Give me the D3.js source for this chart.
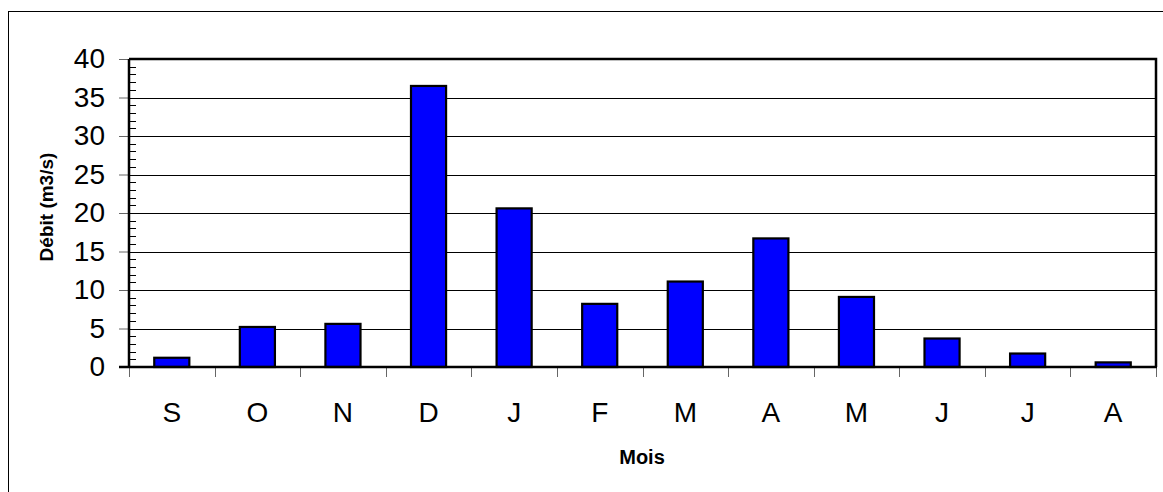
<!DOCTYPE html>
<html>
<head>
<meta charset="utf-8">
<script src="https://cdn.jsdelivr.net/npm/d3@7"></script>
<style>
  html, body { margin: 0; padding: 0; background: #fff; }
  svg { display: block; font-family: "Liberation Sans", Arial, sans-serif; }
</style>
</head>
<body>
<svg id="chart" width="1163" height="492"></svg>
<script>
const months = ["S", "O", "N", "D", "J", "F", "M", "A", "M", "J", "J", "A"];
const debit = [1.2, 5.2, 5.6, 36.5, 20.6, 8.2, 11.1, 16.7, 9.1, 3.7, 1.75, 0.6];
const yTicks = [0, 5, 10, 15, 20, 25, 30, 35, 40];
const yMinorTicks = d3.range(0, 41, 1);
const yTitle = "Débit (m3/s)";
const xTitle = "Mois";

const svg = d3.select("#chart");
const W = 1163, H = 492;
const plot = { left: 129, right: 1156, top: 59, bottom: 367 };

// outer chart frame (extends past the right / bottom edge)
svg.append("rect")
  .attr("x", 8.5).attr("y", 11.5)
  .attr("width", W + 20).attr("height", H + 20)
  .attr("fill", "#fff").attr("stroke", "#000").attr("stroke-width", 1);

const idx = months.map((d, i) => i);
const bandPad = 0.59;
const x = d3.scaleBand().domain(idx)
  .range([plot.left, plot.right])
  .paddingInner(bandPad).paddingOuter(bandPad / 2);
const step = x.step();

const y = d3.scaleLinear().domain([0, 40]).range([plot.bottom, plot.top]);

// gridlines
svg.append("g").selectAll("line")
  .data(yTicks.filter(v => v > 0 && v < 40))
  .join("line")
  .attr("x1", plot.left).attr("x2", plot.right)
  .attr("y1", d => Math.round(y(d)) + 0.5).attr("y2", d => Math.round(y(d)) + 0.5)
  .attr("stroke", "#000").attr("stroke-width", 1);

// minor ticks (inside)
svg.append("g").selectAll("line")
  .data(yMinorTicks.filter(v => v % 5 !== 0))
  .join("line")
  .attr("x1", plot.left).attr("x2", plot.left + 7)
  .attr("y1", d => Math.round(y(d)) + 0.5).attr("y2", d => Math.round(y(d)) + 0.5)
  .attr("stroke", "#000").attr("stroke-width", 1);

// y axis major ticks + labels
const yAxis = d3.axisLeft(y).tickValues(yTicks).tickSize(10).tickPadding(14)
  .tickFormat(d3.format("d"));
const gy = svg.append("g").attr("transform", `translate(${plot.left},0)`).call(yAxis);
gy.select(".domain").remove();
gy.selectAll(".tick line").attr("stroke", "#666");
gy.selectAll(".tick text")
  .attr("font-size", 28).attr("fill", "#000")
  .attr("font-family", "'Liberation Sans', Arial, sans-serif");

// bars
svg.append("g").selectAll("rect")
  .data(debit)
  .join("rect")
  .attr("x", (d, i) => x(i))
  .attr("y", d => y(d))
  .attr("width", x.bandwidth())
  .attr("height", d => y(0) - y(d))
  .attr("fill", "#0000FF")
  .attr("stroke", "#000").attr("stroke-width", 2.2);

// plot border top & right
svg.append("path")
  .attr("d", `M${plot.left},${plot.top}H${plot.right}V${plot.bottom}`)
  .attr("fill", "none").attr("stroke", "#000").attr("stroke-width", 2.5);

// x axis: category boundary ticks
const bounds = d3.range(0, months.length + 1).map(i => plot.left + i * step);
svg.append("g").selectAll("line")
  .data(bounds)
  .join("line")
  .attr("x1", d => Math.round(d) + 0.5).attr("x2", d => Math.round(d) + 0.5)
  .attr("y1", plot.bottom).attr("y2", plot.bottom + 10)
  .attr("stroke", "#666").attr("stroke-width", 1);

// axis lines
svg.append("line")
  .attr("x1", plot.left).attr("x2", plot.left)
  .attr("y1", plot.top).attr("y2", plot.bottom + 1)
  .attr("stroke", "#000").attr("stroke-width", 2.5);
svg.append("line")
  .attr("x1", plot.left - 10).attr("x2", plot.right + 1)
  .attr("y1", plot.bottom).attr("y2", plot.bottom)
  .attr("stroke", "#000").attr("stroke-width", 2.5);

// month labels
svg.append("g").selectAll("text")
  .data(months)
  .join("text")
  .attr("x", (d, i) => x(i) + x.bandwidth() / 2)
  .attr("y", 422)
  .attr("text-anchor", "middle")
  .attr("font-size", 28).attr("fill", "#000")
  .text(d => d);

// axis titles
svg.append("text")
  .attr("x", 642).attr("y", 464)
  .attr("text-anchor", "middle")
  .attr("font-size", 20).attr("font-weight", "bold")
  .text(xTitle);

svg.append("text")
  .attr("transform", `translate(53,207) rotate(-90)`)
  .attr("text-anchor", "middle")
  .attr("font-size", 19).attr("font-weight", "bold")
  .text(yTitle);
</script>
</body>
</html>
